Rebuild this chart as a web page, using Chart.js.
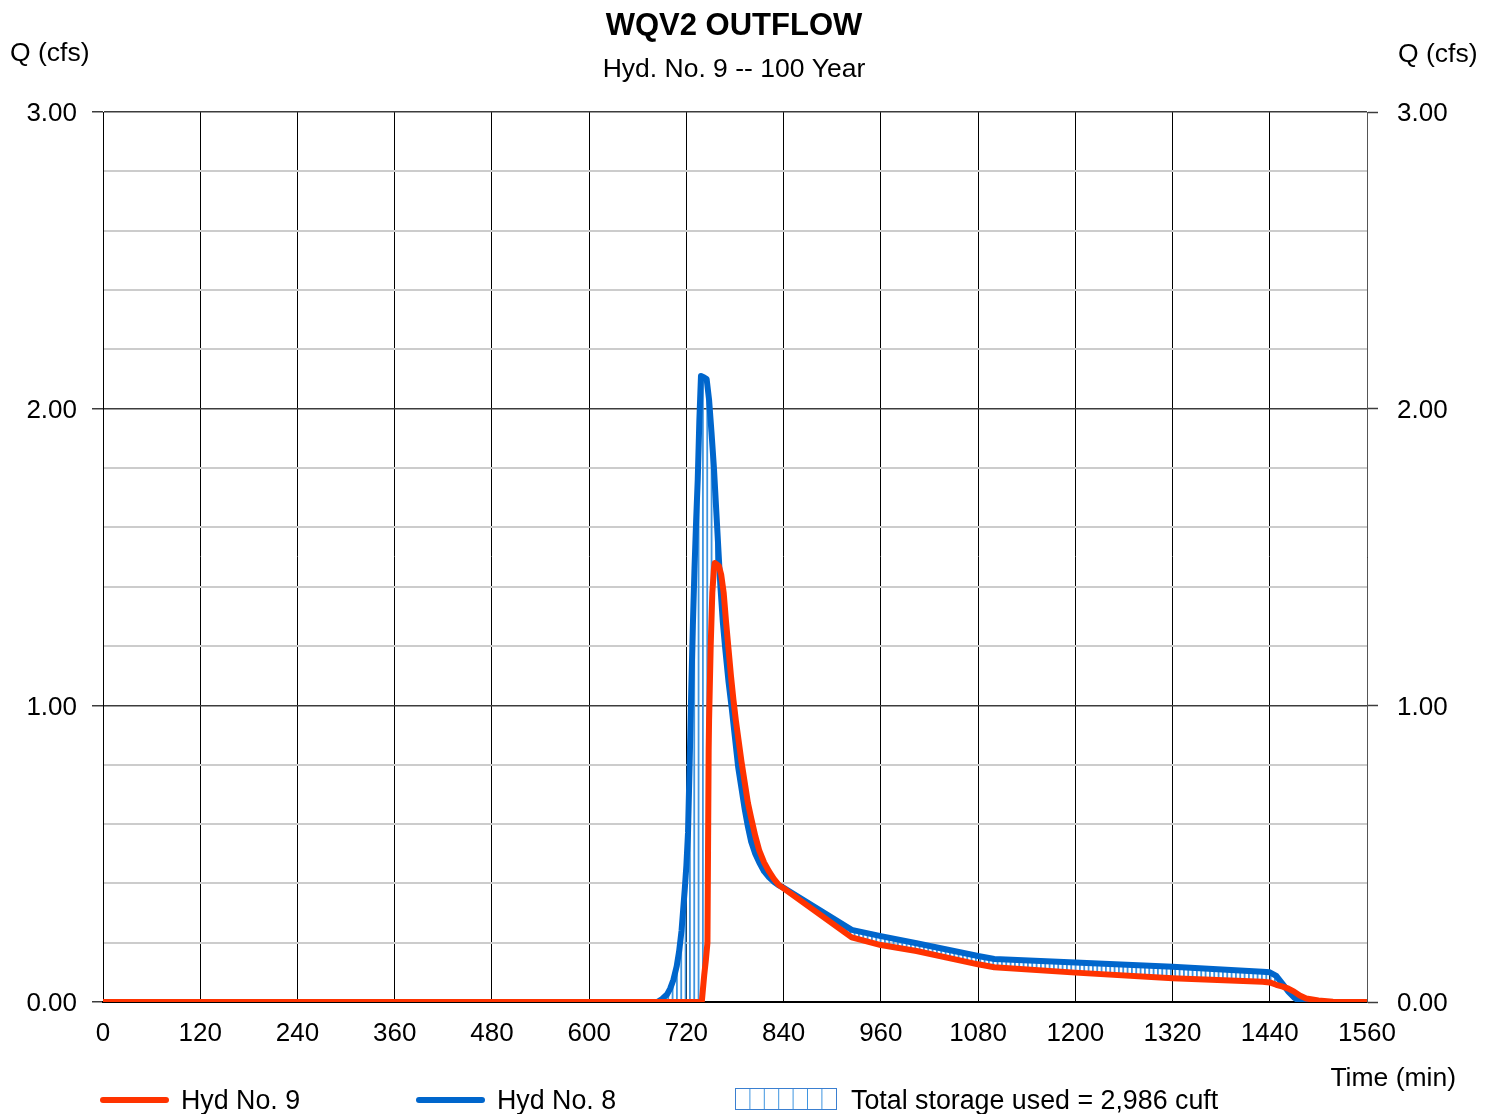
<!DOCTYPE html>
<html>
<head>
<meta charset="utf-8">
<script src="https://cdn.jsdelivr.net/npm/chart.js@4.4.0/dist/chart.umd.min.js"></script>
<style>
  html, body { margin: 0; padding: 0; background: #fff; }
  #wrap { width: 1496px; height: 1114px; }
</style>
</head>
<body>
<div id="wrap"><canvas id="hyd"></canvas></div>
<script>
// Hyd No. 8 (Zufluss): Zeit (min) und Abfluss (cfs)
var time8 = [0, 600, 684, 690, 696, 700, 704, 708, 711, 714, 716, 718, 720, 722, 724, 726, 728, 730, 732, 734, 736, 738,
  742, 745, 748, 751, 754, 758, 762, 765, 768, 772, 776, 780, 784, 788, 792, 796, 800, 805, 810, 816, 822, 828, 834, 840,
  924, 960, 1004, 1080, 1100, 1200, 1320, 1431, 1440, 1448, 1456, 1463, 1470, 1477, 1485, 1560];
var hyd8 = [0, 0, 0, 0.01, 0.025, 0.045, 0.075, 0.12, 0.17, 0.24, 0.31, 0.38, 0.46, 0.57, 0.80, 1.05, 1.27, 1.46, 1.62, 1.76, 1.96, 2.11,
  2.105, 2.10, 2.03, 1.92, 1.80, 1.60, 1.40, 1.28, 1.19, 1.08, 0.99, 0.89, 0.79, 0.72, 0.65, 0.59, 0.54, 0.50, 0.47, 0.44, 0.42, 0.405, 0.393, 0.385,
  0.243, 0.222, 0.198, 0.155, 0.145, 0.133, 0.119, 0.102, 0.10, 0.088, 0.06, 0.035, 0.015, 0.002, 0, 0];

// Hyd No. 9 (Abfluss WQV2)
var time9 = [0, 600, 739, 742, 744, 746, 747.5, 748, 750, 752, 754, 755, 760, 763, 766, 769, 772, 775, 778, 781, 784, 788, 792, 796, 800,
  805, 810, 816, 822, 828, 834, 840, 924, 960, 1004, 1080, 1100, 1200, 1320, 1431, 1440, 1448, 1456, 1463, 1470, 1477, 1485, 1500, 1518, 1560];
var hyd9 = [0, 0, 0, 0.09, 0.14, 0.20, 0.85, 0.95, 1.20, 1.38, 1.46, 1.48, 1.47, 1.44, 1.38, 1.28, 1.19, 1.10, 1.02, 0.95, 0.89, 0.81, 0.74, 0.67, 0.62,
  0.56, 0.51, 0.47, 0.44, 0.415, 0.395, 0.383, 0.218, 0.192, 0.172, 0.127, 0.117, 0.099, 0.080, 0.068, 0.066, 0.058, 0.052, 0.045, 0.035, 0.022, 0.012, 0.005, 0.001, 0];

var xTicks = [0, 120, 240, 360, 480, 600, 720, 840, 960, 1080, 1200, 1320, 1440, 1560];
var storageText = "Total storage used = 2,986 cuft";

var FONT = '"Liberation Sans", Arial, sans-serif';
var RED = '#ff3300';
var BLUE = '#0066cc';
var HATCH = '#3f95e0';

function toPoints(ts, ys) {
  var pts = [];
  for (var i in ts) {
    pts.push({ x: ts[i], y: ys[i] });
  }
  return pts;
}

// Schraffur fuer das Speichervolumen
function makeHatch() {
  var c = document.createElement('canvas');
  c.width = 13; c.height = 4;
  var g = c.getContext('2d');
  g.fillStyle = HATCH;
  g.fillRect(0, 0, 1.8, 4);
  g.fillRect(4.33, 0, 1.8, 4);
  g.fillRect(8.67, 0, 1.8, 4);
  return g.createPattern(c, 'repeat');
}
var hatch = makeHatch();

function isMajor(v) { return Math.abs(v - Math.round(v)) < 1e-6; }

var textPlugin = {
  id: 'texte',
  afterDraw: function(chart) {
    var ctx = chart.ctx;
    ctx.save();
    ctx.fillStyle = '#000';
    ctx.textBaseline = 'alphabetic';
    ctx.textAlign = 'center';
    ctx.font = 'bold 31px ' + FONT;
    ctx.fillText('WQV2 OUTFLOW', 734, 35);
    ctx.font = '26.5px ' + FONT;
    ctx.fillText('Hyd. No. 9 -- 100 Year', 734, 77);
    ctx.textAlign = 'left';
    ctx.fillText('Q (cfs)', 10, 61);
    ctx.fillText('Q (cfs)', 1398, 62);
    ctx.textAlign = 'right';
    ctx.fillText('Time (min)', 1456, 1086);

    // Legende
    ctx.lineCap = 'round';
    ctx.lineWidth = 6;
    ctx.strokeStyle = RED;
    ctx.beginPath(); ctx.moveTo(103, 1100); ctx.lineTo(166, 1100); ctx.stroke();
    ctx.strokeStyle = BLUE;
    ctx.beginPath(); ctx.moveTo(419, 1100); ctx.lineTo(482, 1100); ctx.stroke();
    ctx.lineCap = 'butt';
    ctx.lineWidth = 1;
    ctx.strokeStyle = HATCH;
    for (var k = 1; k < 7; k++) {
      var xx = 735.5 + k * 14.4;
      ctx.beginPath(); ctx.moveTo(xx, 1089); ctx.lineTo(xx, 1110); ctx.stroke();
    }
    ctx.strokeStyle = '#3a7fd0';
    ctx.strokeRect(735.5, 1088.5, 101, 21);
    ctx.textAlign = 'left';
    ctx.fillStyle = '#000';
    ctx.font = '26.8px ' + FONT;
    ctx.fillText('Hyd No. 9', 181, 1109);
    ctx.fillText('Hyd No. 8', 497, 1109);
    ctx.fillText(storageText, 851, 1109);
    ctx.restore();
  }
};

var yTickOpts = {
  stepSize: 0.2,
  autoSkip: false,
  color: '#000',
  labelOffset: 2,
  font: { family: FONT, size: 26 },
  callback: function(v) { return isMajor(v) ? Number(v).toFixed(2) : ''; }
};

var chart = new Chart(document.getElementById('hyd'), {
  type: 'line',
  data: {
    datasets: [
      {
        label: 'Hyd No. 9',
        data: toPoints(time9, hyd9),
        borderColor: RED,
        borderWidth: 6,
        pointRadius: 0,
        tension: 0,
        fill: false,
        borderJoinStyle: 'round',
        borderCapStyle: 'round'
      },
      {
        label: 'Hyd No. 8',
        data: toPoints(time8, hyd8),
        borderColor: BLUE,
        borderWidth: 6,
        pointRadius: 0,
        tension: 0,
        fill: { target: 0, above: hatch, below: hatch },
        borderJoinStyle: 'round',
        borderCapStyle: 'round'
      }
    ]
  },
  options: {
    responsive: true,
    maintainAspectRatio: false,
    animation: false,
    events: [],
    layout: { padding: { top: 112, left: 0, right: 0, bottom: 0 } },
    plugins: {
      legend: { display: false },
      title: { display: false },
      tooltip: { enabled: false }
    },
    scales: {
      x: {
        type: 'linear',
        min: 0,
        max: 1560,
        afterFit: function(s) { s.height = 112; },
        afterBuildTicks: function(s) { s.ticks = xTicks.map(function(v) { return { value: v }; }); },
        ticks: {
          autoSkip: false,
          maxRotation: 0,
          color: '#000',
          padding: 16,
          font: { family: FONT, size: 26 },
          callback: function(v) { return String(v); }
        },
        grid: { color: '#000', lineWidth: 1, drawTicks: false },
        border: { display: true, color: '#000', width: 2 }
      },
      y: {
        min: 0,
        max: 3,
        afterFit: function(s) { s.width = 103; },
        ticks: Object.assign({ padding: 15 }, yTickOpts),
        grid: {
          tickLength: 11,
          color: function(c) { return isMajor(c.tick.value) ? '#3c3c3c' : '#cccccc'; },
          lineWidth: function(c) { return isMajor(c.tick.value) ? 1.5 : 2; },
          tickColor: function(c) { return isMajor(c.tick.value) ? '#3c3c3c' : 'rgba(0,0,0,0)'; },
          tickWidth: 1.5
        },
        border: { display: true, color: '#000', width: 1 }
      },
      y2: {
        position: 'right',
        min: 0,
        max: 3,
        afterFit: function(s) { s.width = 129; },
        ticks: Object.assign({ padding: 19 }, yTickOpts),
        grid: {
          drawOnChartArea: false,
          tickLength: 11,
          tickColor: function(c) { return isMajor(c.tick.value) ? '#3c3c3c' : 'rgba(0,0,0,0)'; },
          tickWidth: 1.5
        },
        border: { display: true, color: '#555', width: 1 }
      }
    }
  },
  plugins: [textPlugin]
});
</script>
</body>
</html>
